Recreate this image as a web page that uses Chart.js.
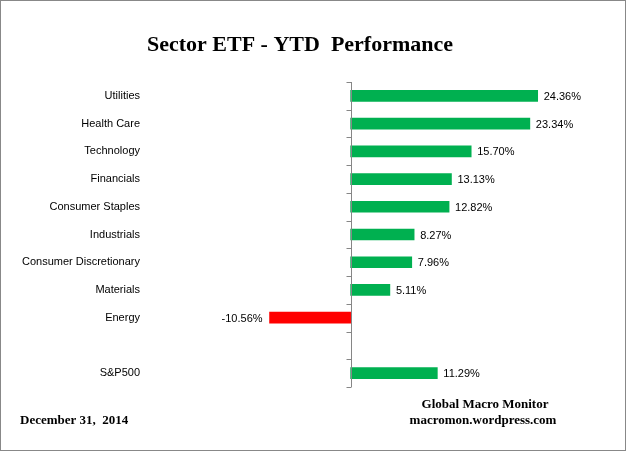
<!DOCTYPE html>
<html>
<head>
<meta charset="utf-8">
<script src="https://cdn.jsdelivr.net/npm/chart.js@4"></script>
<style>
body { margin: 0; background: #fff; }
#wrap { width: 626px; height: 451px; position: relative; }
</style>
</head>
<body>
<div id="wrap"><canvas id="sector_chart"></canvas></div>
<script>
const sectors = ["Utilities", "Health Care", "Technology", "Financials", "Consumer Staples", "Industrials",
                 "Consumer Discretionary", "Materials", "Energy", "", "S&P500"];
const ytd = [24.36, 23.34, 15.70, 13.13, 12.82, 8.27, 7.96, 5.11, -10.56, null, 11.29];

const extras = {
    id: 'extras',
    afterDraw(chart) {
        const ctx = chart.ctx;
        const x = chart.scales.x, y = chart.scales.y;
        const x0 = Math.round(x.getPixelForValue(0)) + 0.5;
        ctx.save();
        // frame
        ctx.strokeStyle = '#888';
        ctx.lineWidth = 1;
        ctx.strokeRect(0.5, 0.5, 625, 450);
        // zero axis with ticks
        ctx.strokeStyle = '#868686';
        ctx.beginPath();
        ctx.moveTo(x0, chart.chartArea.top);
        ctx.lineTo(x0, chart.chartArea.bottom);
        const step = (chart.chartArea.bottom - chart.chartArea.top) / sectors.length;
        for (let i = 0; i <= sectors.length; i++) {
            const ty = Math.round(chart.chartArea.top + i * step) + 0.5;
            ctx.moveTo(x0 - 5, ty);
            ctx.lineTo(x0, ty);
        }
        ctx.stroke();
        // value labels
        ctx.fillStyle = '#000';
        ctx.font = '11px "Liberation Sans", Arial, sans-serif';
        ctx.textBaseline = 'middle';
        ytd.forEach((v, i) => {
            if (v === null) return;
            const px = x.getPixelForValue(v);
            const py = y.getPixelForValue(i);
            ctx.textAlign = v >= 0 ? 'left' : 'right';
            ctx.fillText(v.toFixed(2) + '%', v >= 0 ? px + 6 : px - 7, py + 1);
        });
        // title and footer
        ctx.font = 'bold 22px "Liberation Serif", "Times New Roman", serif';
        ctx.textAlign = 'center';
        ctx.fillText('Sector ETF - YTD  Performance', 300, 45);
        ctx.font = 'bold 13px "Liberation Serif", "Times New Roman", serif';
        ctx.textAlign = 'left';
        ctx.fillText('December 31,  2014', 20, 421);
        ctx.textAlign = 'center';
        ctx.fillText('Global Macro Monitor', 485, 405);
        ctx.fillText('macromon.wordpress.com', 483, 421);
        ctx.restore();
    }
};

new Chart(document.getElementById('sector_chart'), {
    type: 'bar',
    data: {
        labels: sectors,
        datasets: [{
            data: ytd,
            backgroundColor: ytd.map(v => v < 0 ? '#ff0000' : '#00b050'),
            barThickness: 11
        }]
    },
    options: {
        responsive: true,
        maintainAspectRatio: false,
        animation: false,
        indexAxis: 'y',
        layout: { padding: { top: 82, bottom: 64, right: 45, left: 0 } },
        plugins: { legend: { display: false }, tooltip: { enabled: false } },
        scales: {
            x: { min: -26, max: 30, display: false },
            y: {
                afterFit(scale) { scale.width = 151; },
                grid: { display: false },
                border: { display: false },
                ticks: { color: '#000', padding: 3, font: { size: 11, family: '"Liberation Sans", Arial, sans-serif' } }
            }
        }
    },
    plugins: [extras]
});
</script>
</body>
</html>
